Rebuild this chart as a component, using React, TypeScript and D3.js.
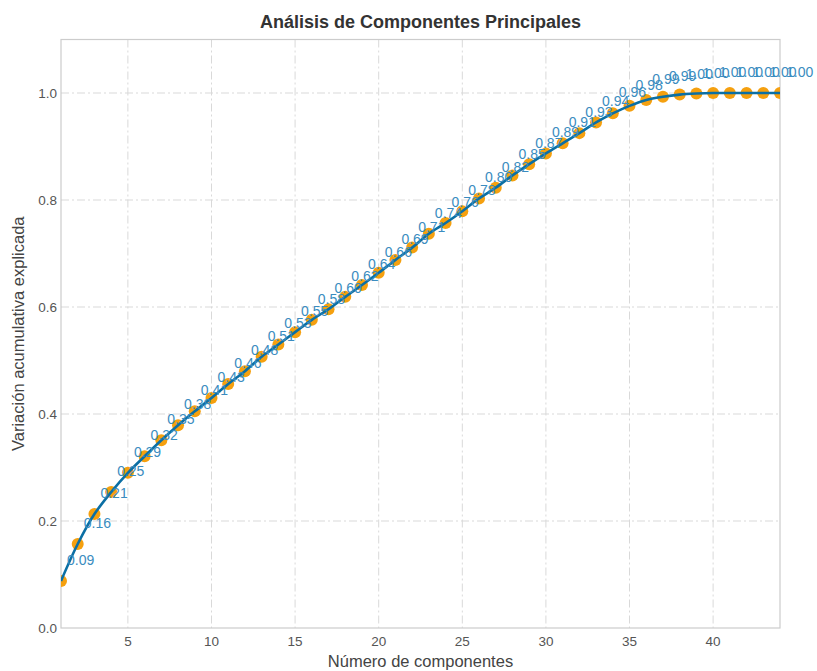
import React, { useEffect, useRef } from 'react';
import * as d3 from 'd3';

// cumulative explained variance per number of components
const components = d3.range(1, 45);
const cumVariance = [
  0.088, 0.157, 0.213, 0.254, 0.290, 0.321, 0.351, 0.379, 0.405, 0.430,
  0.456, 0.480, 0.507, 0.530, 0.553, 0.576, 0.596, 0.619, 0.641, 0.664,
  0.688, 0.711, 0.737, 0.757, 0.779, 0.803, 0.823, 0.846, 0.867, 0.887,
  0.906, 0.925, 0.945, 0.962, 0.976, 0.987, 0.993, 0.997, 0.999, 1.000,
  1.000, 1.000, 1.000, 1.000,
];
const xTicks = [5, 10, 15, 20, 25, 30, 35, 40];
const yTicks = [0, 0.2, 0.4, 0.6, 0.8, 1.0];

const App = () => {
  const ref = useRef<SVGSVGElement>(null);

  const graph = () => {
    const svg = d3.select(ref.current);
    svg.selectAll('*').remove();

    const width = 817;
    const height = 671;
    const margin = { top: 39.5, right: 37, bottom: 43, left: 61 };
    const font = '"Liberation Sans", Arial, sans-serif';

    const x = d3.scaleLinear()
      .domain([1, 44])
      .range([margin.left, width - margin.right]);

    const y = d3.scaleLinear()
      .domain([0, 1.1])
      .range([height - margin.bottom, margin.top]);

    const data = components.map((c, i) => ({ c, v: cumVariance[i] }));

    svg.append('rect')
      .attr('width', width)
      .attr('height', height)
      .attr('fill', '#fff');

    // grid
    const grid = svg.append('g')
      .attr('stroke', '#d9d9d9')
      .attr('stroke-width', 1)
      .attr('stroke-dasharray', '8,3,2,3');

    grid.selectAll('line.gx')
      .data(xTicks)
      .enter().append('line')
      .attr('x1', d => x(d)).attr('x2', d => x(d))
      .attr('y1', margin.top).attr('y2', height - margin.bottom);

    grid.selectAll('line.gy')
      .data(yTicks.slice(1))
      .enter().append('line')
      .attr('x1', margin.left).attr('x2', width - margin.right)
      .attr('y1', d => y(d)).attr('y2', d => y(d));

    // frame
    svg.append('rect')
      .attr('x', margin.left)
      .attr('y', margin.top)
      .attr('width', width - margin.left - margin.right)
      .attr('height', height - margin.top - margin.bottom)
      .attr('fill', 'none')
      .attr('stroke', '#cccccc')
      .attr('stroke-width', 1.2);

    // tick labels
    svg.append('g')
      .selectAll('text')
      .data(xTicks)
      .enter().append('text')
      .attr('x', d => x(d))
      .attr('y', height - margin.bottom + 18)
      .attr('text-anchor', 'middle')
      .style('font-family', font)
      .style('font-size', '13.5px')
      .attr('fill', '#555')
      .text(d => d);

    svg.append('g')
      .selectAll('text')
      .data(yTicks)
      .enter().append('text')
      .attr('x', margin.left - 4)
      .attr('y', d => y(d))
      .attr('dy', '0.35em')
      .attr('text-anchor', 'end')
      .style('font-family', font)
      .style('font-size', '13.5px')
      .attr('fill', '#555')
      .text(d => d.toFixed(1));

    const clip = svg.append('defs').append('clipPath').attr('id', 'plot-clip');
    clip.append('rect')
      .attr('x', margin.left)
      .attr('y', margin.top)
      .attr('width', width - margin.left - margin.right)
      .attr('height', height - margin.top - margin.bottom);

    const plot = svg.append('g').attr('clip-path', 'url(#plot-clip)');

    // points
    plot.selectAll('circle')
      .data(data)
      .enter().append('circle')
      .attr('cx', d => x(d.c))
      .attr('cy', d => y(d.v))
      .attr('r', 6)
      .attr('fill', '#f5a00f');

    // line
    const line = d3.line<{ c: number; v: number }>()
      .x(d => x(d.c))
      .y(d => y(d.v))
      .curve(d3.curveCatmullRom);

    plot.append('path')
      .datum(data)
      .attr('d', line)
      .attr('fill', 'none')
      .attr('stroke', '#0b6fa4')
      .attr('stroke-width', 2.6);

    // value labels
    svg.append('g')
      .selectAll('text')
      .data(data)
      .enter().append('text')
      .attr('x', d => x(d.c) + 6)
      .attr('y', d => y(d.v) - 16)
      .style('font-family', font)
      .style('font-size', '14px')
      .attr('fill', '#3a8cc0')
      .text(d => d.v.toFixed(2));

    // titles
    svg.append('text')
      .attr('x', (margin.left + width - margin.right) / 2)
      .attr('y', 28)
      .attr('text-anchor', 'middle')
      .style('font-family', font)
      .style('font-size', '18px')
      .style('font-weight', 'bold')
      .attr('fill', '#333')
      .text('Análisis de Componentes Principales');

    svg.append('text')
      .attr('x', (margin.left + width - margin.right) / 2)
      .attr('y', 667)
      .attr('text-anchor', 'middle')
      .style('font-family', font)
      .style('font-size', '16.5px')
      .attr('fill', '#444')
      .text('Número de componentes');

    svg.append('text')
      .attr('transform', `translate(24, ${(margin.top + height - margin.bottom) / 2}) rotate(-90)`)
      .attr('text-anchor', 'middle')
      .style('font-family', font)
      .style('font-size', '16.5px')
      .attr('fill', '#444')
      .text('Variación acumulativa explicada');
  };

  useEffect(() => graph());

  return (
    <svg ref={ref} width="817" height="671" style={{ display: 'block', position: 'absolute', left: 0, top: 0 }}></svg>
  );
};

export default App;
